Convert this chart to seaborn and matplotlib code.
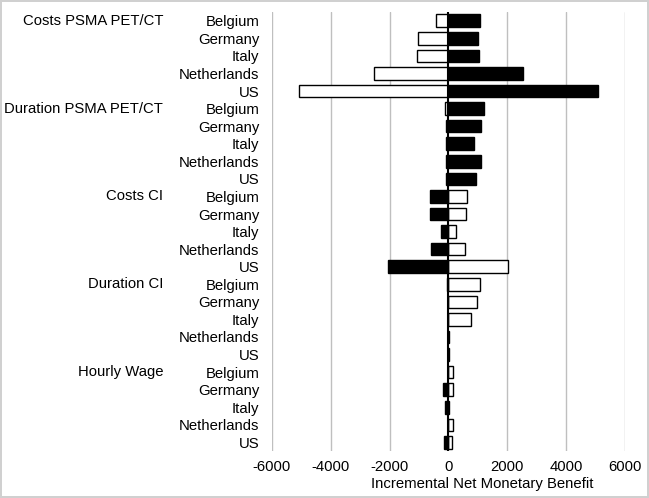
import numpy as np
import pandas as pd
import seaborn as sns
import matplotlib.pyplot as plt
import matplotlib.transforms as mtransforms

# Parameters and countries (top to bottom)
parameters = ["Costs PSMA PET/CT", "Duration PSMA PET/CT", "Costs CI", "Duration CI", "Hourly Wage"]
countries = ["Belgium", "Germany", "Italy", "Netherlands", "US"]

# white bars (low value) and black bars (high value), in row order
low_vals = [-410, -1045, -1075, -2520, -5090,
            -110, -85, -70, -85, -85,
            640, 595, 270, 555, 2010,
            1075, 960, 750, 30, 20,
            155, 140, 20, 140, 125]
high_vals = [1060, 1020, 1030, 2520, 5080,
             1215, 1105, 865, 1115, 950,
             -635, -620, -270, -580, -2050,
             -40, -30, -20, -30, -25,
             -20, -170, -125, -30, -155]

xticks = [-6000, -4000, -2000, 0, 2000, 4000, 6000]

rows = [p + "|" + c for p in parameters for c in countries]
df = pd.DataFrame({"row": rows, "low": low_vals, "high": high_vals})

sns.set_style("white")
plt.rcParams['font.family'] = ['Liberation Sans', 'DejaVu Sans']
plt.rcParams['font.size'] = 10.7
plt.rcParams['text.color'] = 'black'
plt.rcParams['axes.labelcolor'] = 'black'
plt.rcParams['xtick.color'] = 'black'
plt.rcParams['ytick.color'] = 'black'

fig = plt.figure(figsize=(6.49, 4.98), dpi=100)
fig.patch.set_edgecolor('#d0d0d0')
fig.patch.set_linewidth(1.5)
ax = fig.add_axes([0.419, 0.094, 0.544, 0.882])

for x in xticks:
    if x != 0:
        ax.axvline(x, color='#bfbfbf', lw=1, zorder=0)

sns.barplot(data=df, x="low", y="row", orient="h", color="white",
            edgecolor="black", linewidth=1, width=0.72, ax=ax, zorder=2)
sns.barplot(data=df, x="high", y="row", orient="h", color="black",
            edgecolor="black", linewidth=1, width=0.72, ax=ax, zorder=2)
ax.axvline(0, color='black', lw=1.5, zorder=3)

ax.set_xlim(-6000, 6000)
ax.set_ylim(len(rows) - 0.5, -0.5)
ax.set_xticks(xticks)
ax.set_xticklabels([str(x) for x in xticks])
ax.set_yticks(range(len(rows)))
ax.set_yticklabels([r.split("|")[1] for r in rows])
ax.tick_params(axis='y', length=0, pad=9)
ax.tick_params(axis='x', length=0, pad=6)
ax.set_ylabel("")
ax.set_xlabel("Incremental Net Monetary Benefit")
ax.xaxis.set_label_coords(0.595, -0.058)
for s in ax.spines.values():
    s.set_visible(False)

trans = mtransforms.blended_transform_factory(fig.transFigure, ax.transData)
for i, p in enumerate(parameters):
    ax.text(163 / 649, i * len(countries), p, transform=trans,
            ha='right', va='center', fontsize=10.7)

fig.savefig("out.png", dpi=100)
